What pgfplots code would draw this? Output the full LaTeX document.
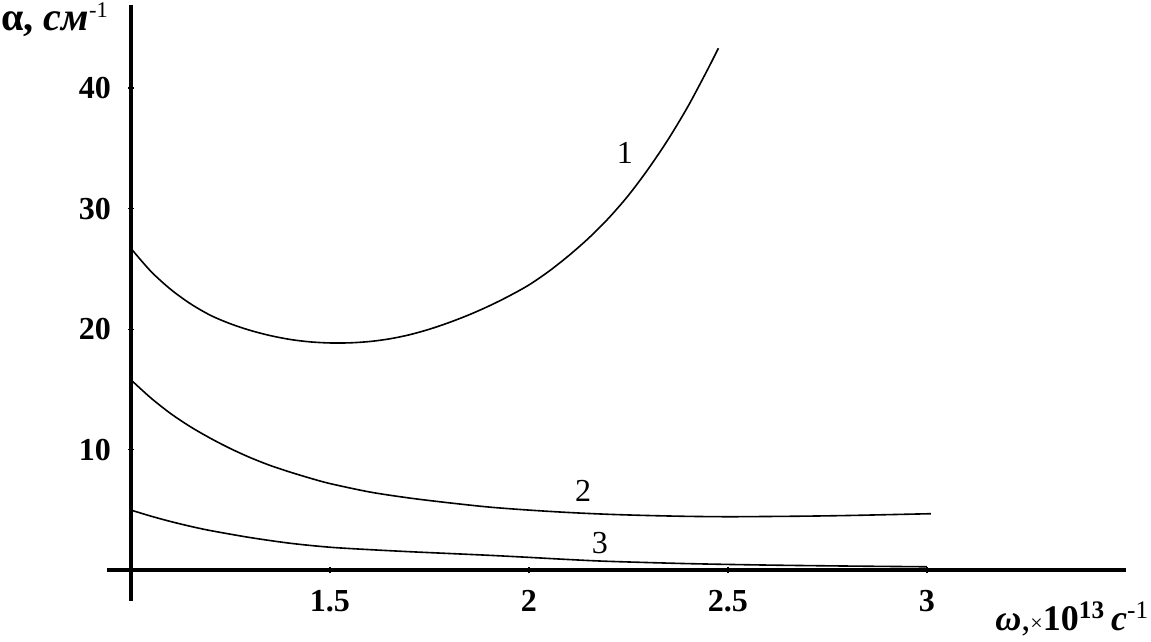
\documentclass[border=0pt]{standalone}
\usepackage{fontspec}
\setmainfont{Liberation Serif}
\usepackage{pgfplots}
\pgfplotsset{compat=1.18}
\begin{document}
\begin{tikzpicture}
\begin{axis}[
  scale only axis,
  width=497pt, height=282.5pt,
  xmin=1, xmax=3.5, ymin=0, ymax=46.9,
  axis lines=left,
  axis line style={line width=2pt,-},
  xtick={1.5,2,2.5,3},
  ytick={10,20,30,40},
  xticklabels={1.5,2,2.5,3},
  yticklabels={10,20,30,40},
  major tick length=3pt,
  tick style={black,line width=0.6pt},
  tick align=center,
  xticklabel style={font=\bfseries\fontsize{16}{16}\selectfont, yshift=-5pt},
  yticklabel style={font=\bfseries\fontsize{16}{16}\selectfont, xshift=-5pt},
  clip=false,
]
\addplot[black, line width=0.8pt, smooth] coordinates {
 (1.0,26.7) (1.05,24.8) (1.1,23.3) (1.15,22.1) (1.2,21.15) (1.25,20.45)
 (1.3,19.9) (1.35,19.47) (1.4,19.15) (1.45,18.95) (1.5,18.86) (1.55,18.87)
 (1.6,18.98) (1.65,19.2) (1.7,19.54) (1.75,20.0) (1.8,20.56) (1.85,21.2)
 (1.9,21.93) (1.95,22.75) (2.0,23.67) (2.05,24.8) (2.1,26.1) (2.15,27.55)
 (2.2,29.2) (2.25,31.1) (2.3,33.3) (2.35,35.75) (2.4,38.5) (2.45,41.6) (2.476,43.3)};
\addplot[black, line width=0.8pt, smooth] coordinates {
 (1.0,15.8) (1.05,14.3) (1.1,13.0) (1.15,11.9) (1.2,10.95) (1.25,10.1)
 (1.3,9.35) (1.35,8.7) (1.4,8.15) (1.45,7.65) (1.5,7.2) (1.6,6.5) (1.7,6.0)
 (1.8,5.6) (1.9,5.25) (2.0,5.0) (2.1,4.8) (2.2,4.65) (2.3,4.55) (2.4,4.48)
 (2.5,4.45) (2.6,4.47) (2.7,4.5) (2.8,4.55) (2.9,4.62) (3.01,4.7)};
\addplot[black, line width=0.8pt, smooth] coordinates {
 (1.0,5.0) (1.05,4.5) (1.1,4.05) (1.15,3.65) (1.2,3.3) (1.3,2.72)
 (1.4,2.25) (1.5,1.92) (1.6,1.72) (1.7,1.55) (1.8,1.4) (1.9,1.25)
 (2.0,1.08) (2.1,0.9) (2.2,0.75) (2.4,0.56) (2.6,0.44) (2.8,0.36) (3.0,0.3)};
\draw[line width=2pt] (axis cs:1,0) -- (axis cs:1,-2.5);
\draw[line width=2pt] (axis cs:1,0) -- (axis cs:0.94,0);
\node[font=\fontsize{16}{16}\selectfont] at (axis cs:2.241,34.6) {1};
\node[font=\fontsize{16}{16}\selectfont] at (axis cs:2.136,6.6) {2};
\node[font=\fontsize{16}{16}\selectfont] at (axis cs:2.178,2.24) {3};
\node[anchor=base west, inner sep=0pt, font=\bfseries\fontsize{20}{20}\selectfont] at (axis cs:0.674,44.8)
  {α, {\itshape см}{\mdseries\fontsize{16}{16}\selectfont\textsuperscript{-1}}};
\node[anchor=base west, inner sep=0pt, font=\fontsize{18}{18}\selectfont] at (axis cs:3.171,-5.0)
  {{\bfseries\itshape ω},{\fontsize{11}{11}\selectfont ×}{\bfseries 10\textsuperscript{13}}\,{\bfseries\itshape с}\textsuperscript{-1}};
\coordinate (bl) at (axis cs:0.671,-5.89);
\coordinate (tr) at (axis cs:3.563,47.3);
\end{axis}
\pgfresetboundingbox
\path[use as bounding box] (bl) rectangle (tr);
\end{tikzpicture}
\end{document}
